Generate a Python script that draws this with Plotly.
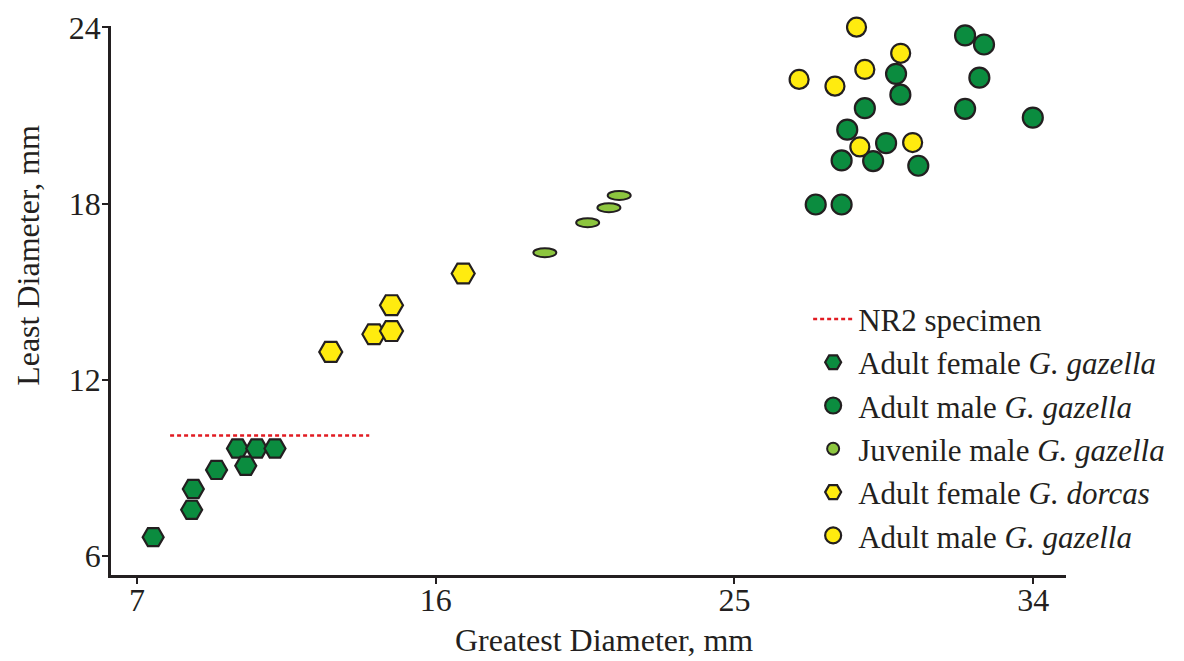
import plotly.graph_objects as go

# ---- data ----
FEM_GAZ_X = [7.49, 8.65, 8.70, 9.40, 10.03, 10.61, 11.16, 10.28]
FEM_GAZ_Y = [6.64, 7.57, 8.28, 8.93, 9.66, 9.66, 9.66, 9.07]

MALE_GAZ_X = [31.95, 32.52, 29.87, 30.00, 32.38, 28.93, 31.95, 33.99,
              28.40, 29.57, 28.23, 29.18, 30.54, 27.45, 28.23]
MALE_GAZ_Y = [23.73, 23.42, 22.42, 21.71, 22.29, 21.25, 21.23, 20.93,
              20.52, 20.06, 19.47, 19.45, 19.29, 17.97, 17.97]

JUV_X = [19.29, 20.58, 21.22, 21.53]
JUV_Y = [16.33, 17.35, 17.86, 18.28]

FEM_DOR_X = [12.84, 14.14, 14.67, 14.67, 16.83]
FEM_DOR_Y = [12.95, 13.55, 13.66, 14.54, 15.62]

MALE_YEL_X = [28.68, 30.01, 28.93, 26.95, 28.03, 28.78, 30.37]
MALE_YEL_Y = [24.01, 23.12, 22.57, 22.23, 22.00, 19.93, 20.08]

NR2_X = [8.0, 14.0]
NR2_Y = [10.1, 10.1]

X_TICKS = [7, 16, 25, 34]
Y_TICKS = [6, 12, 18, 24]

NAMES = ["NR2 specimen",
         "Adult female <i>G. gazella</i>",
         "Adult male <i>G. gazella</i>",
         "Juvenile male <i>G. gazella</i>",
         "Adult female <i>G. dorcas</i>",
         "Adult male <i>G. gazella</i>"]

# ---- styles ----
GREEN = "#0b8c3f"
YELLOW = "#ffeb0f"
LIME = "#8dc63f"
EDGE = "#231f20"
RED = "#e11b22"
FONT = "Liberation Serif"

fig = go.Figure()

fig.add_trace(go.Scatter(
    x=NR2_X, y=NR2_Y, mode="lines", name=NAMES[0], legendrank=1,
    legendgroup="g0",
    line=dict(color=RED, width=2.5, dash="4px,3px")))

fig.add_trace(go.Scatter(
    x=FEM_GAZ_X, y=FEM_GAZ_Y, mode="markers", name=NAMES[1], legendrank=2,
    legendgroup="g1", cliponaxis=False,
    marker=dict(symbol="hexagon2", size=21, color=GREEN,
                line=dict(color=EDGE, width=2.2))))

fig.add_trace(go.Scatter(
    x=MALE_GAZ_X, y=MALE_GAZ_Y, mode="markers", name=NAMES[2], legendrank=3,
    legendgroup="g2", cliponaxis=False,
    marker=dict(symbol="circle", size=20, color=GREEN,
                line=dict(color=EDGE, width=2.2))))

# juvenile: ellipses drawn as pixel-sized circle shapes anchored at data points
for i, (xv, yv) in enumerate(zip(JUV_X, JUV_Y)):
    fig.add_shape(
        type="circle", xref="x", yref="y",
        xsizemode="pixel", ysizemode="pixel",
        xanchor=xv, yanchor=yv,
        x0=-11.5, x1=11.5, y0=-4.5, y1=4.5,
        fillcolor=LIME, line=dict(color=EDGE, width=2),
        showlegend=(i == 0), name=NAMES[3], legendrank=4, legendgroup="g3")

fig.add_trace(go.Scatter(
    x=FEM_DOR_X, y=FEM_DOR_Y, mode="markers", name=NAMES[4], legendrank=5,
    legendgroup="g4", cliponaxis=False,
    marker=dict(symbol="hexagon2", size=23, color=YELLOW,
                line=dict(color=EDGE, width=2.2))))

fig.add_trace(go.Scatter(
    x=MALE_YEL_X, y=MALE_YEL_Y, mode="markers", name=NAMES[5], legendrank=6,
    legendgroup="g5", cliponaxis=False,
    marker=dict(symbol="circle", size=19, color=YELLOW,
                line=dict(color=EDGE, width=2.2))))

axis_common = dict(
    showline=True, linecolor=EDGE, linewidth=2.5, mirror=False,
    showgrid=False, zeroline=False, automargin=False,
    ticks="outside", ticklen=6, tickwidth=2, tickcolor=EDGE,
    tickfont=dict(family=FONT, size=32, color=EDGE),
)

fig.update_xaxes(range=[6.22, 34.99], tickvals=X_TICKS,
                 ticklabelstandoff=-11, **axis_common)
fig.update_yaxes(range=[5.35, 24.05], tickvals=Y_TICKS,
                 ticklabelstandoff=-5, **axis_common)

# axis titles
fig.add_annotation(
    text="Greatest Diameter, mm",
    xref="paper", yref="paper", x=0.516, y=-0.155,
    xanchor="center", yanchor="bottom", showarrow=False,
    font=dict(family=FONT, size=32, color=EDGE))
fig.add_annotation(
    text="Least Diameter, mm", textangle=-90,
    xref="paper", yref="paper", x=-0.087, y=0.583,
    xanchor="center", yanchor="middle", showarrow=False,
    font=dict(family=FONT, size=32, color=EDGE))

# the page body has an 8px margin, so the figure is offset by 8px
fig.update_layout(
    width=1176, height=653, autosize=False,
    margin=dict(l=103, r=118, t=18, b=86),
    paper_bgcolor="white", plot_bgcolor="white",
    font=dict(family=FONT, color=EDGE),
    legend=dict(x=0.73, y=0.515, xanchor="left", yanchor="top",
                font=dict(family=FONT, size=31, color=EDGE),
                bgcolor="rgba(0,0,0,0)", tracegroupgap=0,
                itemwidth=40),
    showlegend=True,
)

fig.write_html("out.html")
